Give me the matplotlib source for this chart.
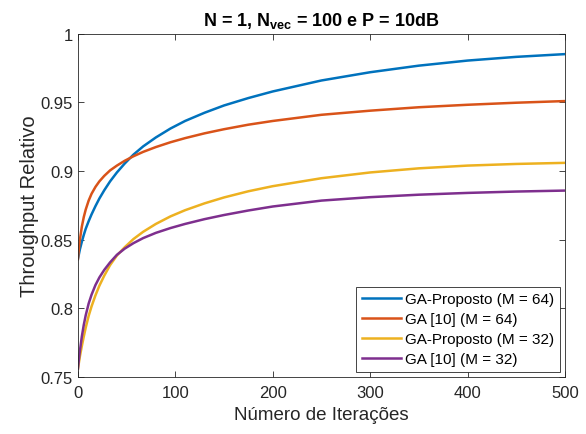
import matplotlib.pyplot as plt
from matplotlib.ticker import FuncFormatter

plt.rcParams['font.family'] = ['Liberation Sans', 'DejaVu Sans']
plt.rcParams['mathtext.fontset'] = 'custom'
plt.rcParams['mathtext.rm'] = 'Liberation Sans'
plt.rcParams['mathtext.bf'] = 'Liberation Sans:bold'

iteracoes = [0, 1, 2, 4, 6, 8, 11, 14, 18, 22, 27, 33, 40, 48, 57, 67, 80, 95, 110,
             130, 150, 175, 200, 250, 300, 350, 400, 450, 500]

ga_prop_64 = [0.836, 0.8395, 0.843, 0.8485, 0.8535, 0.858, 0.8635, 0.8685, 0.8745, 0.880,
              0.886, 0.8925, 0.899, 0.9055, 0.912, 0.918, 0.9245, 0.931, 0.9365, 0.9425,
              0.9478, 0.9532, 0.958, 0.966, 0.972, 0.9768, 0.9805, 0.9832, 0.9852]
ga_ref_64 = [0.836, 0.8435, 0.850, 0.8595, 0.8665, 0.872, 0.8785, 0.8835, 0.8885, 0.8925,
             0.8965, 0.9005, 0.904, 0.9075, 0.9108, 0.914, 0.9175, 0.921, 0.924, 0.9275,
             0.9305, 0.9338, 0.9365, 0.941, 0.944, 0.9465, 0.9483, 0.9498, 0.951]
ga_prop_32 = [0.756, 0.7605, 0.765, 0.7725, 0.7795, 0.786, 0.7945, 0.8015, 0.8095, 0.8165,
              0.8238, 0.8315, 0.8385, 0.8445, 0.8505, 0.8558, 0.8615, 0.867, 0.8715, 0.8765,
              0.8808, 0.8853, 0.889, 0.8948, 0.899, 0.902, 0.904, 0.9052, 0.906]
ga_ref_32 = [0.756, 0.763, 0.769, 0.7795, 0.788, 0.795, 0.8035, 0.810, 0.817, 0.8225,
             0.828, 0.8335, 0.839, 0.8435, 0.8475, 0.8512, 0.855, 0.8585, 0.8615, 0.865,
             0.868, 0.8713, 0.8742, 0.8785, 0.881, 0.8828, 0.8841, 0.8851, 0.8858]

labels = ['GA-Proposto (M = 64)', 'GA [10] (M = 64)', 'GA-Proposto (M = 32)', 'GA [10] (M = 32)']
cores = ['#0072BD', '#D95319', '#EDB120', '#7E2F8E']

fig = plt.figure(figsize=(5.86, 4.35), dpi=100)
ax = fig.add_axes([0.133, 0.131, 0.831, 0.789])

for serie, lab, cor in zip([ga_prop_64, ga_ref_64, ga_prop_32, ga_ref_32], labels, cores):
    ax.plot(iteracoes, serie, color=cor, lw=1.8, label=lab)

ax.set_xlim(0, 500)
ax.set_ylim(0.75, 1)
ax.set_xticks([0, 100, 200, 300, 400, 500])
ax.set_yticks([0.75, 0.8, 0.85, 0.9, 0.95, 1])
ax.yaxis.set_major_formatter(FuncFormatter(lambda v, p: '%g' % v))

ax.tick_params(direction='in', length=4, width=0.6, colors='#262626', labelsize=12,
               top=True, right=True)
ax.tick_params(axis='x', pad=6)
for s in ax.spines.values():
    s.set_color('#262626')
    s.set_linewidth(0.6)

ax.set_xlabel('Número de Iterações', fontsize=13.5, color='#262626', labelpad=4)
ax.set_ylabel('Throughput Relativo', fontsize=14.5, color='#262626', labelpad=1)
ax.set_title(r'N = 1, $\mathbf{N_{vec}}$ = 100 e P = 10dB', fontsize=13, fontweight='bold',
             color='black', pad=6)

leg = ax.legend(loc='lower right', fontsize=11, fancybox=False, framealpha=1,
                edgecolor='#262626', handlelength=2.6, borderaxespad=0.35,
                labelspacing=0.4, handletextpad=0.25, borderpad=0.35)
leg.get_frame().set_linewidth(0.6)

fig.savefig('out.png', dpi=100)
